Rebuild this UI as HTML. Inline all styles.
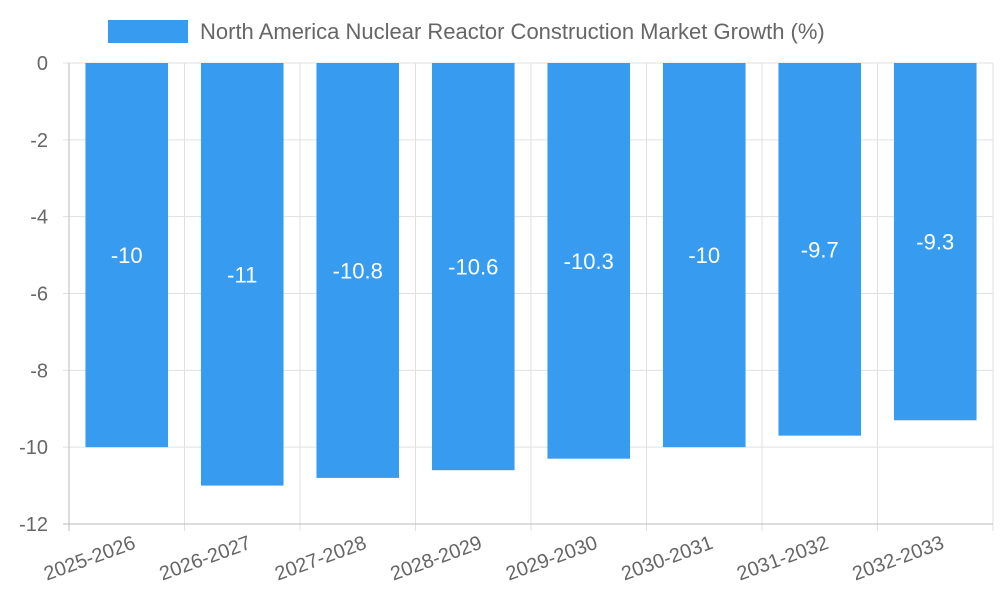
<!DOCTYPE html>
<html><head><meta charset="utf-8"><style>
html,body{margin:0;padding:0;background:#fff;}
svg{display:block;font-family:"Liberation Sans",sans-serif;}
</style></head><body>
<svg id="chart" width="1000" height="600"></svg>
<script>
const categories=["2025-2026","2026-2027","2027-2028","2028-2029","2029-2030","2030-2031","2031-2032","2032-2033"];
const values=[-10,-11,-10.8,-10.6,-10.3,-10,-9.7,-9.3];
const yTicks=[0,-2,-4,-6,-8,-10,-12];
const NS="http://www.w3.org/2000/svg";
const svgRoot=document.getElementById('chart');
const plotLeft=69,plotRight=993,plotTop=63,plotBottom=524,yMin=-12,yMax=0;
const yScale=v=>plotTop+(yMax-v)/(yMax-yMin)*(plotBottom-plotTop);
const band=(plotRight-plotLeft)/categories.length;
const xScale=i=>plotLeft+band*i;
function el(t,a,p){const e=document.createElementNS(NS,t);for(const k in a)e.setAttribute(k,a[k]);(p||svgRoot).appendChild(e);return e;}
const grid=el('g',{});


yTicks.forEach(t=>{
  el('line',{x1:plotLeft-6,x2:plotRight,y1:yScale(t),y2:yScale(t),stroke:'#e0e0e0','stroke-width':1},grid);
  const tx=el('text',{x:48,y:yScale(t)+7,'text-anchor':'end','font-size':20,fill:'#666'});
  tx.textContent=t;
  
  
});
for(let i=0;i<=categories.length;i++){
  el('line',{x1:xScale(i),x2:xScale(i),y1:plotTop,y2:plotBottom+7,stroke:'#e0e0e0','stroke-width':1},grid);
}
el('line',{x1:plotLeft,x2:plotLeft,y1:plotTop,y2:plotBottom+7,stroke:'#bbb','stroke-width':1});
el('line',{x1:plotLeft-6,x2:plotRight,y1:plotBottom,y2:plotBottom,stroke:'#bbb','stroke-width':1});
categories.forEach((c,i)=>{
  const bw=band*0.715,bx=xScale(i)+(band-bw)/2;
  const r=el('rect',{x:bx,y:yScale(0),width:bw,height:yScale(values[i])-yScale(0),fill:'#379cf0'});
  
  
  const vt=el('text',{x:xScale(i)+band/2,y:(yScale(0)+yScale(values[i]))/2+8,'text-anchor':'middle','font-size':22,fill:'#fff'});
  vt.textContent=values[i];
  
  
  const cx=xScale(i)+band/2+10,cy=548;
  const xt=el('text',{x:cx,y:cy,'text-anchor':'end','font-size':20,fill:'#666',transform:`rotate(-20 ${cx} ${cy})`});
  xt.textContent=c;
  
  
});
const lg=el('g',{});


el('rect',{x:108,y:20,width:80,height:23,fill:'#379cf0'},lg);
const legendText=el('text',{x:200,y:39,'font-size':22,fill:'#666'},lg);
legendText.textContent='North America Nuclear Reactor Construction Market Growth (%)';
</script>
</body></html>
